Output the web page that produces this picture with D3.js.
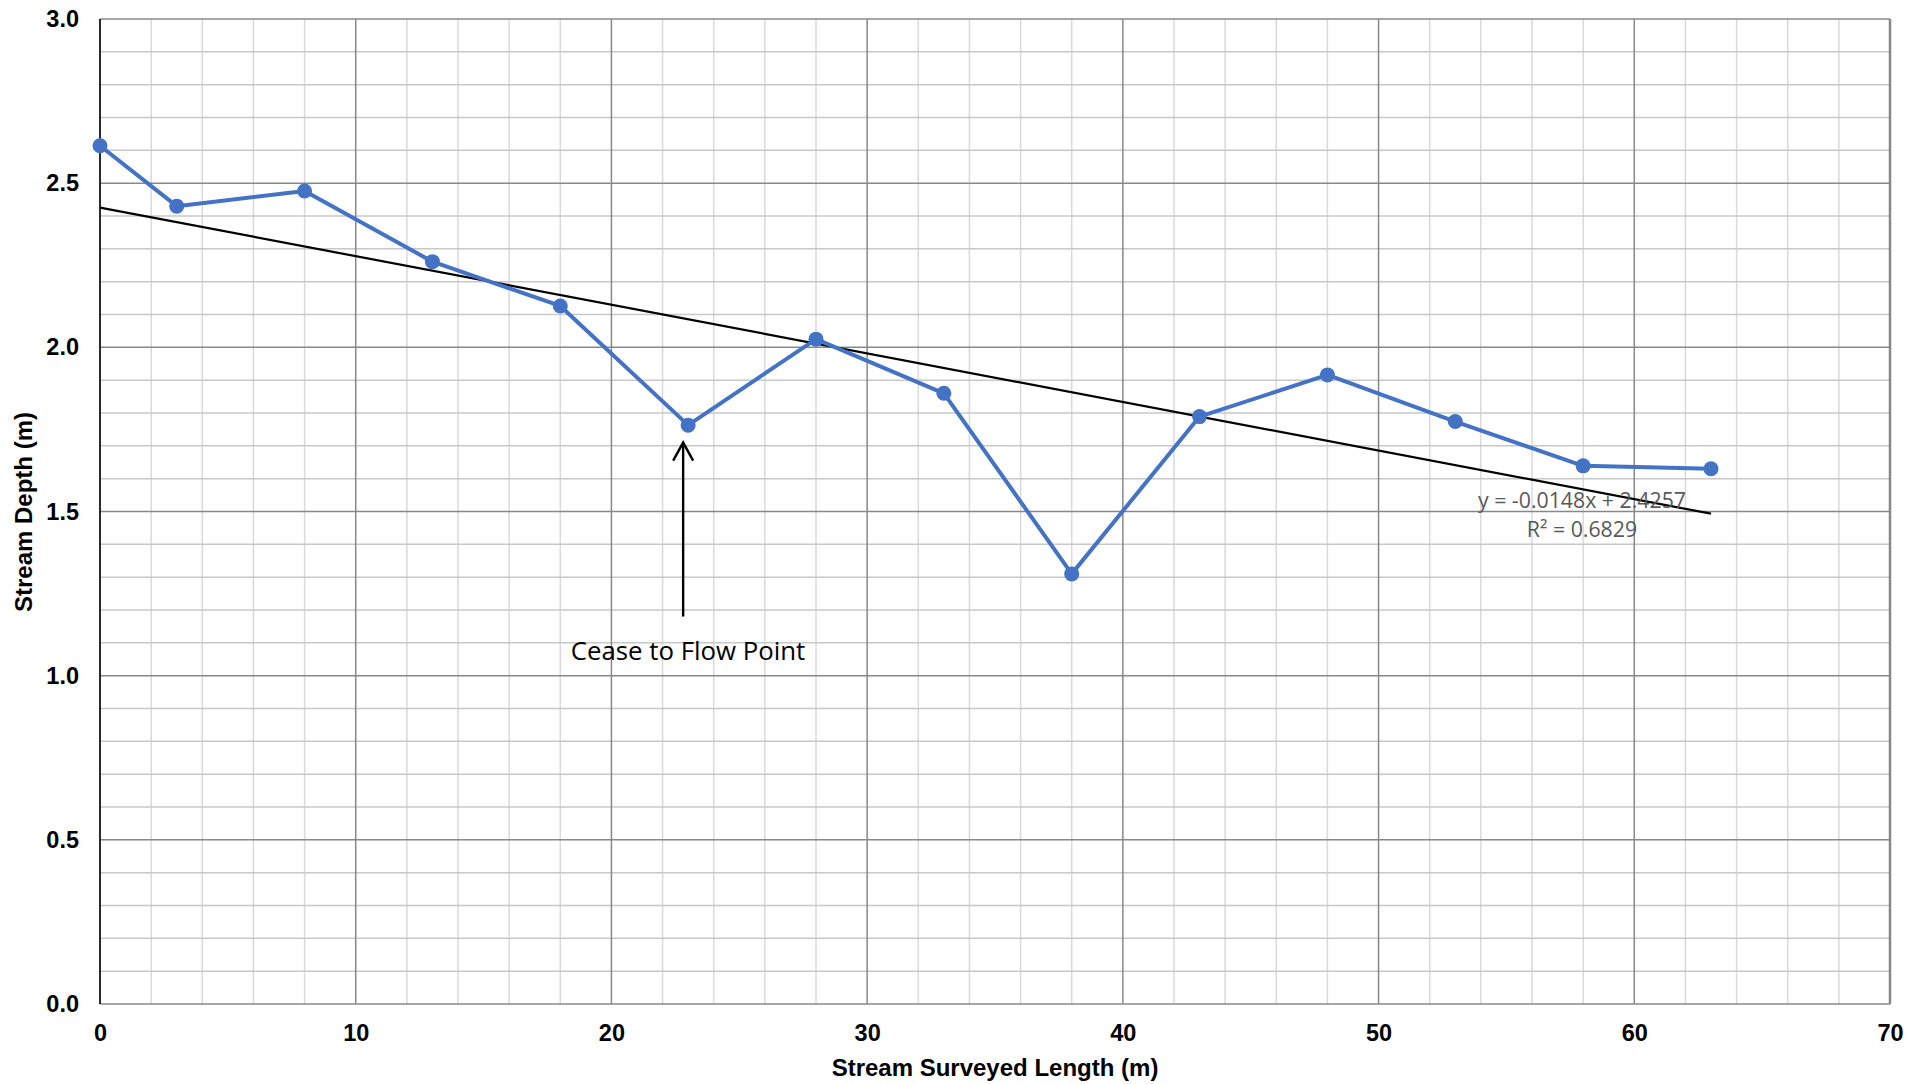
<!DOCTYPE html>
<html>
<head>
<meta charset="utf-8">
<script src="https://cdn.jsdelivr.net/npm/d3@7"></script>
<style>
  html, body { margin: 0; padding: 0; background: #fff; }
  svg { display: block; }
</style>
</head>
<body>
<svg id="chart" width="1927" height="1084"></svg>
<script>
// Data
const lengths = [0, 3, 8, 13, 18, 23, 28, 33, 38, 43, 48, 53, 58, 63];
const depths  = [2.614, 2.430, 2.476, 2.261, 2.126, 1.763, 2.025, 1.860, 1.310, 1.789, 1.916, 1.774, 1.639, 1.630];
const xTicks = [0, 10, 20, 30, 40, 50, 60, 70];
const yTicks = [0.0, 0.5, 1.0, 1.5, 2.0, 2.5, 3.0];
const xMinor = [2, 4, 6, 8, 12, 14, 16, 18, 22, 24, 26, 28, 32, 34, 36, 38, 42, 44, 46, 48, 52, 54, 56, 58, 62, 64, 66, 68];
const yMinor = [0.1,0.2,0.3,0.4,0.6,0.7,0.8,0.9,1.1,1.2,1.3,1.4,1.6,1.7,1.8,1.9,2.1,2.2,2.3,2.4,2.6,2.7,2.8,2.9];
const trendSlope = -0.0148;
const trendIntercept = 2.4257;
const trendRange = [0, 63];
const trendLabel = "y = -0.0148x + 2.4257";
const r2Label = "R² = 0.6829";
const annotation = { text: "Cease to Flow Point", x: 23, arrowFrom: 1.18, arrowTo: 1.71 };

const svg = d3.select("#chart");
const pLeft = 100, pRight = 1890, pTop = 19, pBottom = 1004;
const x = d3.scaleLinear().domain([0, 70]).range([pLeft, pRight]);
const y = d3.scaleLinear().domain([0, 3]).range([pBottom, pTop]);
const boldFont = "Liberation Sans, Arial, sans-serif";

// Minor grid
svg.append("g").selectAll("line").data(xMinor).join("line")
  .attr("x1", d => x(d)).attr("x2", d => x(d)).attr("y1", pTop).attr("y2", pBottom)
  .attr("stroke", "#d9d9d9").attr("stroke-width", 1.5);
svg.append("g").selectAll("line").data(yMinor).join("line")
  .attr("x1", pLeft).attr("x2", pRight).attr("y1", d => y(d)).attr("y2", d => y(d))
  .attr("stroke", "#c8c8c8").attr("stroke-width", 1.5);
// Major grid
svg.append("g").selectAll("line").data(xTicks).join("line")
  .attr("x1", d => x(d)).attr("x2", d => x(d)).attr("y1", pTop).attr("y2", pBottom)
  .attr("stroke", "#888").attr("stroke-width", 1.5);
svg.append("g").selectAll("line").data(yTicks).join("line")
  .attr("x1", pLeft).attr("x2", pRight).attr("y1", d => y(d)).attr("y2", d => y(d))
  .attr("stroke", "#888").attr("stroke-width", 1.5);
// Right border
svg.append("line").attr("x1", pRight).attr("x2", pRight).attr("y1", pTop).attr("y2", pBottom)
  .attr("stroke", "#888").attr("stroke-width", 2.5);
// Left axis black
svg.append("line").attr("x1", pLeft).attr("x2", pLeft).attr("y1", pTop).attr("y2", pBottom)
  .attr("stroke", "#000").attr("stroke-width", 1.5);

// Axes labels via d3 axes
const xAxis = d3.axisBottom(x).tickValues(xTicks).tickSize(0).tickPadding(20).tickFormat(d3.format("d"));
const gx = svg.append("g").attr("transform", `translate(0,${pBottom})`).call(xAxis);
gx.select(".domain").remove();
gx.selectAll("text").attr("font-family", boldFont)
  .attr("font-size", 23.5).attr("font-weight", "bold").attr("fill", "#000");

const yAxis = d3.axisLeft(y).tickValues(yTicks).tickSize(0).tickPadding(21).tickFormat(d3.format(".1f"));
const gy = svg.append("g").attr("transform", `translate(${pLeft},0)`).call(yAxis);
gy.select(".domain").remove();
gy.selectAll("text").attr("font-family", boldFont)
  .attr("font-size", 23.5).attr("font-weight", "bold").attr("fill", "#000");

// Axis titles
svg.append("text").attr("x", 995).attr("y", 1076).attr("text-anchor", "middle")
  .attr("font-family", boldFont).attr("font-size", 24).attr("font-weight", "bold")
  .text("Stream Surveyed Length (m)");
svg.append("text").attr("transform", "translate(32,512) rotate(-90)").attr("text-anchor", "middle")
  .attr("font-family", boldFont).attr("font-size", 24).attr("font-weight", "bold")
  .text("Stream Depth (m)");

// Trendline
svg.append("line")
  .attr("x1", x(trendRange[0])).attr("y1", y(trendIntercept + trendSlope * trendRange[0]))
  .attr("x2", x(trendRange[1])).attr("y2", y(trendIntercept + trendSlope * trendRange[1]))
  .attr("stroke", "#000").attr("stroke-width", 2.2);

// Series line
const line = d3.line().x((d, i) => x(lengths[i])).y(d => y(d));
svg.append("path").datum(depths).attr("d", line)
  .attr("fill", "none").attr("stroke", "#4472c4").attr("stroke-width", 4).attr("stroke-linejoin", "round");
svg.append("g").selectAll("circle").data(depths).join("circle")
  .attr("cx", (d, i) => x(lengths[i])).attr("cy", d => y(d)).attr("r", 7.5)
  .attr("fill", "#4472c4");

// Trend label
svg.append("text").attr("x", 1582).attr("y", 508).attr("text-anchor", "middle")
  .attr("font-family", "Open Sans, sans-serif").attr("font-size", 21.3).attr("fill", "#595959")
  .text(trendLabel);
svg.append("text").attr("x", 1582).attr("y", 537).attr("text-anchor", "middle")
  .attr("font-family", "Open Sans, sans-serif").attr("font-size", 21.3).attr("fill", "#595959")
  .text(r2Label);

// Annotation arrow
const ax = x(annotation.x) - 5;
svg.append("line").attr("x1", ax).attr("x2", ax)
  .attr("y1", y(annotation.arrowFrom)).attr("y2", y(annotation.arrowTo))
  .attr("stroke", "#000").attr("stroke-width", 2.4);
svg.append("path")
  .attr("d", `M${ax - 10},${y(annotation.arrowTo) + 18} L${ax},${y(annotation.arrowTo)} L${ax + 10},${y(annotation.arrowTo) + 18}`)
  .attr("fill", "none").attr("stroke", "#000").attr("stroke-width", 2.4);
svg.append("text").attr("x", 688).attr("y", 660).attr("text-anchor", "middle")
  .attr("font-family", "Open Sans, sans-serif").attr("font-size", 25.8).attr("fill", "#000")
  .text(annotation.text);
</script>
</body>
</html>
